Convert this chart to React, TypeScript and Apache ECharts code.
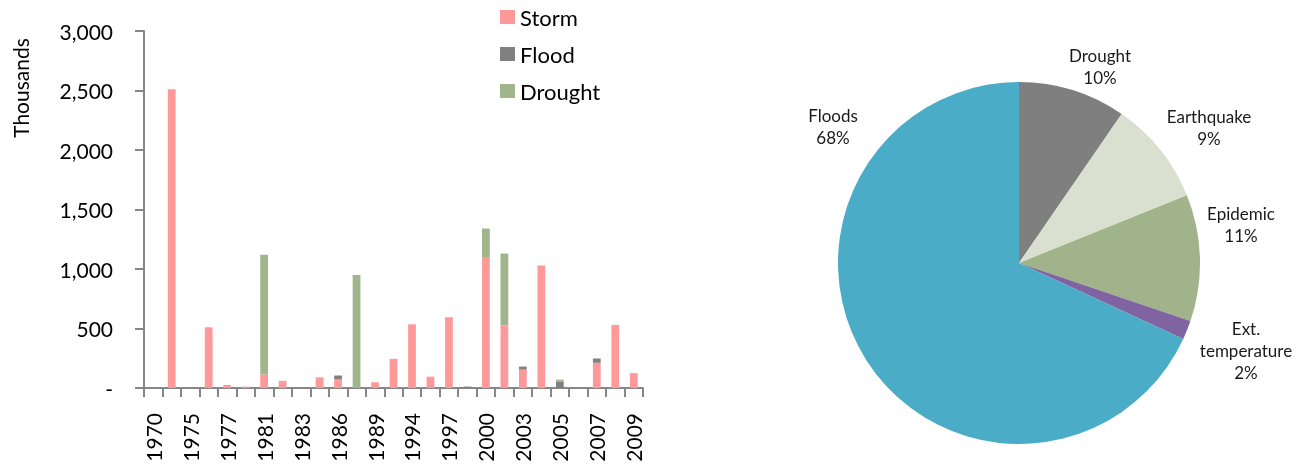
import React, { useEffect, useRef } from "react";
import * as echarts from "echarts";

const categories = ["1970","1974","1975","1976","1977","1979","1981","1982","1983","1985","1986","1987","1989","1991","1994","1995","1997","1998","2000","2002","2003","2004","2005","2006","2007","2008","2009"];
const storm = [0,2510,0,510,25,12,115,60,0,90,72,0,48,245,535,95,595,0,1100,525,155,1030,0,0,212,530,125];
const flood = [0,0,0,0,0,0,0,0,0,0,33,0,0,0,0,0,0,12,0,0,25,0,55,0,36,0,0];
const drought = [0,0,0,0,0,0,1005,0,0,0,0,950,0,0,0,0,0,0,240,605,0,0,15,0,0,0,0];

const pieNames = ["Drought","Earthquake","Epidemic","Ext.\ntemperature","Floods"];
const pieValues = [9.6, 9.3, 11.3, 1.7, 68.1];
const pieColors = ["#7f7f7f","#d9e0cf","#a0b38a","#8064a2","#4aacc6"];
const pieLabelPos = [[1100,66],[1209,127],[1241,224],[1246,350],[833,126]];

const FONT = "Lato, 'Open Sans', sans-serif";

export default function App() {
  const ref = useRef<HTMLDivElement>(null);
  useEffect(() => {
    if (!ref.current) return;
    const chart = echarts.init(ref.current, undefined, { renderer: "svg" });
    chart.setOption({
      animation: false,
      textStyle: { fontFamily: FONT },
      legend: {
        orient: "vertical",
        left: 495,
        top: 1,
        itemWidth: 15,
        itemHeight: 14,
        itemGap: 15,
        icon: "rect",
        data: ["Storm", "Flood", "Drought"],
        textStyle: { fontSize: 22, lineHeight: 22, color: "#000", fontFamily: FONT },
      },
      graphic: [
        {
          type: "text",
          x: 20,
          y: 88,
          rotation: Math.PI / 2,
          style: { text: "Thousands", align: "center", verticalAlign: "middle", font: "21px " + FONT, fill: "#000" },
        },
      ],
      grid: { left: 144, right: 655, top: 31, bottom: 77, containLabel: false },
      xAxis: {
        type: "category",
        data: categories,
        boundaryGap: true,
        axisLine: { lineStyle: { color: "#868686", width: 2 } },
        axisTick: { show: true, interval: 0, length: 9, lineStyle: { color: "#868686", width: 2 } },
        axisLabel: { interval: 1, rotate: 90, margin: 25, fontSize: 21, color: "#000", fontFamily: FONT },
      },
      yAxis: {
        type: "value",
        min: 0,
        max: 3000,
        interval: 500,
        axisLine: { show: true, lineStyle: { color: "#868686", width: 2 } },
        axisTick: { show: true, length: 9, lineStyle: { color: "#868686", width: 2 } },
        splitLine: { show: false },
        axisLabel: {
          margin: 31,
          fontSize: 21,
          color: "#000",
          fontFamily: FONT,
          formatter: (v: number) => (v === 0 ? "-" : v.toLocaleString("en-US")),
        },
      },
      series: [
        { name: "Storm", type: "bar", stack: "t", data: storm, barWidth: "42%", itemStyle: { color: "#ff9999" } },
        { name: "Flood", type: "bar", stack: "t", data: flood, barWidth: "42%", itemStyle: { color: "#808080" } },
        { name: "Drought", type: "bar", stack: "t", data: drought, barWidth: "42%", itemStyle: { color: "#a0b58b" } },
        {
          name: "Share",
          type: "pie",
          center: [1019, 263],
          radius: 181,
          startAngle: 90,
          clockwise: true,
          data: pieNames.map((n, i) => ({ name: n, value: pieValues[i], itemStyle: { color: pieColors[i] } })),
          label: {
            show: true,
            position: "outside",
            formatter: (p: any) => p.name + "\n" + Math.round(p.percent) + "%",
            fontSize: 17,
            lineHeight: 22,
            color: "#1a1a1a",
            fontFamily: FONT,
            align: "center",
            overflow: "none",
            width: 200,
          },
          labelLine: { show: false },
          labelLayout: (params: any) => {
            const p = pieLabelPos[params.dataIndex];
            return { x: p[0], y: p[1], align: "center", verticalAlign: "middle" };
          },
          emphasis: { disabled: true },
        },
      ],
    });
    return () => chart.dispose();
  }, []);
  return <div ref={ref} style={{ position: "fixed", left: 0, top: 0, width: 1298, height: 465 }} />;
}
